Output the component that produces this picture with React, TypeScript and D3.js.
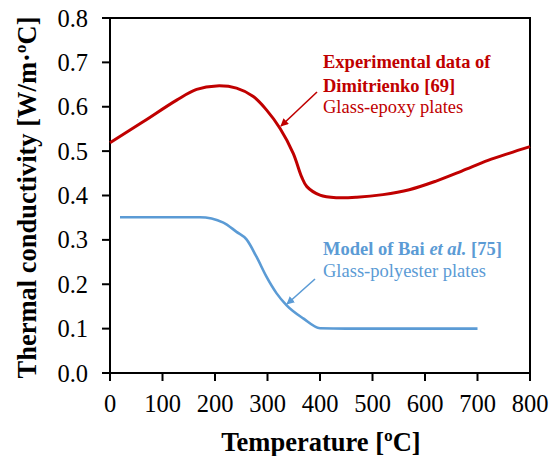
import React from "react";
import * as d3 from "d3";

// Thermal conductivity vs temperature
const epoxyTemp = [0, 63, 127, 165, 203, 241, 273, 298, 324, 349, 365, 375, 400, 432, 470, 520, 570, 620, 670, 720, 760, 800];
const epoxyK = [0.519, 0.566, 0.615, 0.639, 0.647, 0.642, 0.623, 0.593, 0.551, 0.495, 0.442, 0.42, 0.401, 0.395, 0.396, 0.402, 0.413, 0.432, 0.455, 0.479, 0.495, 0.51];

const polyTemp = [19, 100, 171, 216, 241, 260, 279, 298, 317, 336, 368, 400, 450, 700];
const polyK = [0.351, 0.351, 0.351, 0.339, 0.318, 0.301, 0.262, 0.217, 0.18, 0.153, 0.123, 0.101, 0.1, 0.1];

const xTicks = [0, 100, 200, 300, 400, 500, 600, 700, 800];
const yTicks = [0, 0.1, 0.2, 0.3, 0.4, 0.5, 0.6, 0.7, 0.8];

const RED = "#C00000";
const BLUE = "#5B9BD5";
const FONT = "Liberation Serif";

export default function App() {
  const W = 552, H = 456;
  const left = 110, right = 530, top = 18, bottom = 373;
  const x = d3.scaleLinear().domain([0, 800]).range([left, right]);
  const y = d3.scaleLinear().domain([0, 0.8]).range([bottom, top]);

  const smooth = d3.line<[number, number]>()
    .x((d) => x(d[0]))
    .y((d) => y(d[1]))
    .curve(d3.curveCatmullRom.alpha(0.5));
  const monotone = d3.line<[number, number]>()
    .x((d) => x(d[0]))
    .y((d) => y(d[1]))
    .curve(d3.curveMonotoneX);

  const epoxy = epoxyTemp.map((t, i) => [t, epoxyK[i]] as [number, number]);
  const poly = polyTemp.map((t, i) => [t, polyK[i]] as [number, number]);

  const ts = { fontFamily: FONT };

  return (
    <svg width={W} height={H} style={{ position: "absolute", left: 0, top: 0, fontFamily: FONT }}>
      <defs>
        <marker id="ahRed" viewBox="0 0 10 10" refX="9" refY="5" markerWidth="5" markerHeight="5" orient="auto">
          <path d="M0,0 L10,5 L0,10 z" fill={RED} />
        </marker>
        <marker id="ahBlue" viewBox="0 0 10 10" refX="9" refY="5" markerWidth="5" markerHeight="5" orient="auto">
          <path d="M0,0 L10,5 L0,10 z" fill={BLUE} />
        </marker>
      </defs>
      <rect x={0} y={0} width={W} height={H} fill="#fff" />

      {/* frame */}
      <rect x={left} y={top} width={right - left} height={bottom - top} fill="none" stroke="#000" strokeWidth={2} />

      {/* y ticks */}
      {yTicks.map((t) => (
        <g key={"y" + t}>
          <line x1={left - 8} x2={left} y1={y(t)} y2={y(t)} stroke="#000" strokeWidth={2} />
          <text x={88} y={y(t)} dy="0.35em" textAnchor="end" fontSize={24.5} style={ts}>{t.toFixed(1)}</text>
        </g>
      ))}
      {/* x ticks */}
      {xTicks.map((t) => (
        <g key={"x" + t}>
          <line x1={x(t)} x2={x(t)} y1={bottom} y2={bottom + 8} stroke="#000" strokeWidth={2} />
          <text x={x(t)} y={412} textAnchor="middle" fontSize={24.5} style={ts}>{t}</text>
        </g>
      ))}

      <text x={(left + right) / 2 + 1} y={451} textAnchor="middle" fontSize={26.5} fontWeight="bold" style={ts}>Temperature [ºC]</text>
      <text transform={`translate(36, ${(top + bottom) / 2 + 2}) rotate(-90)`} textAnchor="middle" fontSize={26.5} fontWeight="bold" style={ts}>Thermal conductivity [W/m·ºC]</text>

      {/* curves */}
      <path d={smooth(epoxy) || ""} fill="none" stroke={RED} strokeWidth={3} />
      <path d={monotone(poly) || ""} fill="none" stroke={BLUE} strokeWidth={2.6} />

      {/* annotations */}
      <line x1={317} y1={92} x2={281} y2={126} stroke={RED} strokeWidth={1.6} markerEnd="url(#ahRed)" />
      <text x={323} y={68} fill={RED} fontSize={18.5} fontWeight="bold" style={ts}>Experimental data of</text>
      <text x={323} y={92} fill={RED} fontSize={18.5} fontWeight="bold" style={ts}>Dimitrienko [69]</text>
      <text x={323} y={113} fill={RED} fontSize={18.5} style={ts}>Glass-epoxy plates</text>

      <line x1={315} y1={279} x2={287} y2={304} stroke={BLUE} strokeWidth={1.6} markerEnd="url(#ahBlue)" />
      <text x={323} y={255} fill={BLUE} fontSize={18.5} fontWeight="bold" style={ts}>Model of Bai <tspan fontStyle="italic">et al.</tspan> [75]</text>
      <text x={323} y={277} fill={BLUE} fontSize={18.5} style={ts}>Glass-polyester plates</text>
    </svg>
  );
}
